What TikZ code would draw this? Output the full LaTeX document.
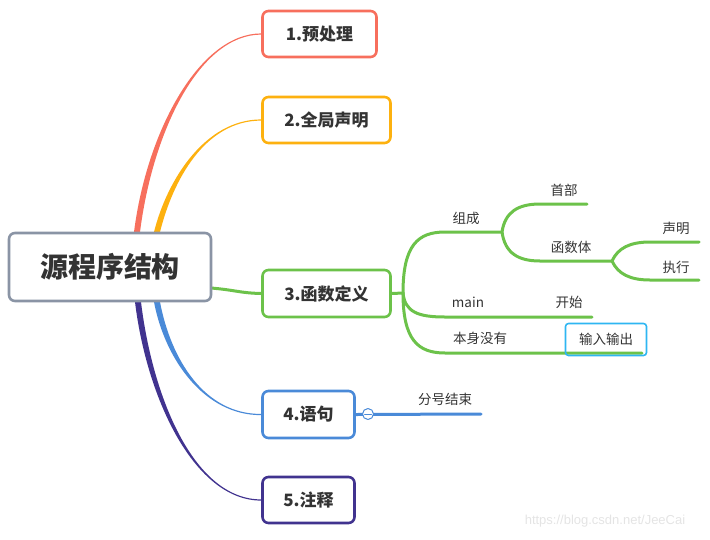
\documentclass[tikz,border=0pt]{standalone}
\usepackage{fontspec}
\setmainfont{Noto Sans CJK SC}
\newfontfamily\markfont{Liberation Sans}
\usetikzlibrary{calc,positioning}
\definecolor{ink}{HTML}{333333}
\definecolor{greyline}{HTML}{8A94A5}
\definecolor{redb}{HTML}{F76F5D}
\definecolor{orangeb}{HTML}{FDB10F}
\definecolor{greenb}{HTML}{6CC24A}
\definecolor{blueb}{HTML}{4A8AD8}
\definecolor{purpleb}{HTML}{41338F}
\definecolor{cyanb}{HTML}{2EB6F2}
\definecolor{markgrey}{HTML}{E4E4E4}
\tikzset{
    every picture/.style={line cap=round,line join=round},
    rootbox/.style={draw=greyline,fill=white,line width=2.6pt,rounded corners=6pt,
      minimum width=202pt,minimum height=68pt,inner sep=0pt,
      text=ink,font=\fontsize{28}{32}\selectfont\bfseries},
    topicbox/.style={draw,fill=white,line width=2.6pt,rounded corners=6pt,
      minimum height=46pt,inner sep=0pt,
      text=ink,font=\fontsize{17}{20}\selectfont\bfseries},
    leaf/.style={inner sep=0pt,text=ink,font=\fontsize{13.5}{16}\selectfont},
    twig/.style={draw=greenb,line width=3pt},
    leafbox/.style={draw=cyanb,line width=1.6pt,rounded corners=3pt,
      minimum width=81pt,minimum height=32pt,inner sep=0pt},
    fold/.style={circle,draw=blueb,fill=white,line width=1pt,minimum size=11pt,inner sep=0pt}
}
% tapered main branch: colour, start, control 1, control 2, end, side of the thin end
\newcommand{\branch}[6]{%
  \fill[#1] ($(#2)+(-3,0)$) .. controls ($(#3)+(-3,0)$) and ($(#4)+(0,#6)$)
    .. ($(#5)+(0,#6)$) -- ($(#5)+(0,-#6)$) .. controls ($(#4)+(0,-#6)$)
    and ($(#3)+(3,0)$) .. ($(#2)+(3,0)$) -- cycle;}

\begin{document}
\begin{tikzpicture}[x=1pt,y=-1pt]
  \useasboundingbox (0,0) rectangle (710,539);

  % start points on the central topic
  \coordinate (s1) at (137,232);
  \coordinate (s2) at (157,232);
  \coordinate (s3) at (211,288);
  \coordinate (s4) at (157,302);
  \coordinate (s5) at (138,302);

  % main topics
  \node[topicbox,draw=redb,minimum width=114pt] (pre) at (319.5,34) {1.预处理};
  \node[topicbox,draw=orangeb,minimum width=128pt] (glob) at (326.5,120) {2.全局声明};
  \node[topicbox,draw=greenb,minimum width=128pt,minimum height=47pt] (func) at (326.5,293.5) {3.函数定义};
  \node[topicbox,draw=blueb,minimum width=92pt,minimum height=47pt] (stmt) at (308.5,414.5) {4.语句};
  \node[topicbox,draw=purpleb,minimum width=92pt] (note) at (308.5,500) {5.注释};

  \branch{redb}{s1}{150,130}{200,34}{pre.west}{-0.6}
  \branch{orangeb}{s2}{170,180}{205,120}{glob.west}{-0.6}
  \branch{blueb}{s4}{168,360}{205,415}{stmt.west}{0.6}
  \branch{purpleb}{s5}{150,400}{195,500}{note.west}{0.6}
  \draw[twig] (s3) .. controls (235,290) and (240,293) .. (func.west);

  \node[rootbox] (root) at (110,267) {源程序结构};

  % children of 3.函数定义
  \coordinate (j0) at (403,293);
  \coordinate (j1) at (502,232);
  \coordinate (j2) at (612,261);
  \coordinate (t1) at (540,204);
  \coordinate (t2) at (650,242);
  \coordinate (t3) at (650,280);
  \draw[twig] (func.east) -- (j0);
  \draw[twig] (j0) .. controls (403,245) and (418,232) .. (445,232) -- (j1);
  \draw[twig] (j0) .. controls (405,312) and (418,317) .. (445,317) -- (592,317);
  \draw[twig] (j0) .. controls (403,340) and (418,353) .. (445,353) -- (642,353);
  \draw[twig] (j1) .. controls (505,212) and (518,204) .. (t1) -- (587,204);
  \draw[twig] (j1) .. controls (505,253) and (518,261) .. (540,261) -- (j2);
  \draw[twig] (j2) .. controls (618,248) and (630,242) .. (t2) -- (699,242);
  \draw[twig] (j2) .. controls (618,274) and (630,280) .. (t3) -- (699,280);

  \node[leaf] (make) at (466,218) {组成};
  \node[leaf] (head) at (564,190) {首部};
  \node[leaf] (body) at (571,247) {函数体};
  \node[leaf] (decl) at (676,228) {声明};
  \node[leaf] (exec) at (676,267) {执行};
  \node[leaf] (mainf) at (468,302) {main};
  \node[leaf] (start) at (569,302) {开始};
  \node[leaf] (none) at (480,338) {本身没有};
  \node[leaf,leafbox] (io) at (606,339.5) {输入输出};

  % child of 4.语句
  \coordinate (t4) at (481,414);
  \draw[blueb,line width=3pt] (stmt.east) -- (t4);
  \node[fold] (fold4) at (368,414) {};
  \draw[blueb,line width=1pt] ([xshift=2.5]fold4.west) -- ([xshift=-2.5]fold4.east);
  \node[leaf] (semi) at (445,399) {分号结束};

  \node[text=markgrey,font=\markfont\fontsize{13}{15}\selectfont] (mark) at (605,521)
    {https://blog.csdn.net/JeeCai};
\end{tikzpicture}
\end{document}
